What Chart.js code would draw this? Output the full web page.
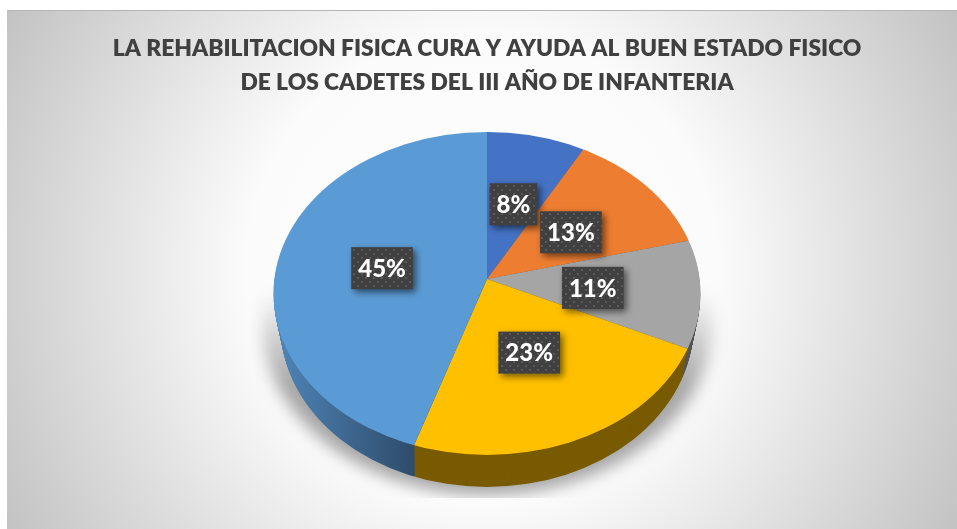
<!DOCTYPE html>
<html>
<head>
<meta charset="utf-8">
<style>
  html, body { margin: 0; padding: 0; background: #fff; }
  canvas { display: block; }
</style>
</head>
<body>
<canvas id="pieChart" width="957" height="529"></canvas>
<script src="https://cdn.jsdelivr.net/npm/chart.js@4"></script>
<script>
const titleLines = [
  'LA REHABILITACION FISICA CURA Y AYUDA AL BUEN ESTADO FISICO',
  'DE LOS CADETES DEL III AÑO DE INFANTERIA'
];
const categories = ['1', '2', '3', '4', '5'];
const percents = [8, 13, 11, 23, 45];
const sliceColors = ['#4472C4', '#ED7D31', '#A5A5A5', '#FFC000', '#5B9BD5'];
const wallColors = ['#2a4578', '#8f4b1d', '#555555', '#795b00', '#375f84'];

// fake 3D: the pie is squashed around its apex and cut by a slightly lower ellipse
const tilt = 0.74;
const rimDrop = 14.5;
const rimX = 213.5;
const rimY = 161.5;
const depth = 32;

function rimPath(ctx, arc, shift, grow) {
  ctx.beginPath();
  ctx.ellipse(arc.x, arc.y + rimDrop + shift, rimX + grow, rimY + grow, 0, 0, Math.PI * 2);
}

function dotPattern(ctx) {
  const tile = document.createElement('canvas');
  tile.width = tile.height = 8;
  const t = tile.getContext('2d');
  t.fillStyle = '#404040';
  t.fillRect(0, 0, 8, 8);
  t.fillStyle = '#595959';
  t.fillRect(1, 1, 2, 2);
  t.fillRect(5, 5, 2, 2);
  return ctx.createPattern(tile, 'repeat');
}

const pie3d = {
  id: 'pie3d',
  beforeDraw(chart) {
    const ctx = chart.ctx;
    ctx.save();
    const g = ctx.createRadialGradient(482, 270, 0, 482, 270, 560);
    g.addColorStop(0, '#ffffff');
    g.addColorStop(0.42, '#fbfbfb');
    g.addColorStop(1, '#bfbfbf');
    ctx.fillStyle = g;
    ctx.fillRect(7, 10, 950, 519);
    ctx.fillStyle = '#b5b5b5';
    ctx.fillRect(7, 10, 950, 1);
    ctx.restore();
  },
  beforeDatasetDraw(chart, args) {
    const ctx = chart.ctx;
    const arcs = args.meta.data;
    const a0 = arcs[0];

    // soft shadow under the lower half
    ctx.save();
    ctx.beginPath();
    ctx.rect(250, 285, 480, 213);
    ctx.clip();
    ctx.filter = 'blur(8px)';
    const sh = ctx.createLinearGradient(0, 290, 0, 385);
    sh.addColorStop(0, 'rgba(0,0,0,0)');
    sh.addColorStop(1, 'rgba(0,0,0,0.34)');
    ctx.fillStyle = sh;
    rimPath(ctx, a0, depth - 4, 12);
    ctx.fill();
    ctx.restore();

    // side wall, stacked from the bottom up, narrowing a little with depth
    const blueWall = ctx.createLinearGradient(a0.x - rimX, 0, a0.x - 68, 0);
    blueWall.addColorStop(0, '#4f86b8');
    blueWall.addColorStop(1, '#2d4a69');
    for (let s = depth; s > 0; s--) {
      ctx.save();
      ctx.beginPath();
      ctx.ellipse(a0.x, a0.y + rimDrop + s, rimX - s * 0.22, rimY, 0, 0, Math.PI * 2);
      ctx.clip();
      arcs.forEach((arc, i) => {
        ctx.setTransform(1, 0, 0, tilt, a0.x, a0.y + s);
        ctx.beginPath();
        ctx.moveTo(0, 0);
        ctx.arc(0, 0, arc.outerRadius, arc.startAngle, arc.endAngle);
        ctx.closePath();
        ctx.setTransform(1, 0, 0, 1, 0, 0);
        ctx.fillStyle = i === arcs.length - 1 ? blueWall : wallColors[i];
        ctx.fill();
      });
      ctx.restore();
    }

    // top face: Chart.js draws the arcs inside this transform
    ctx.save();
    rimPath(ctx, a0, 0, 0);
    ctx.clip();
    ctx.translate(a0.x, a0.y);
    ctx.scale(1, tilt);
    ctx.translate(-a0.x, -a0.y);
  },
  afterDatasetDraw(chart) {
    chart.ctx.restore();
  },
  afterDatasetsDraw(chart) {
    const ctx = chart.ctx;
    const arcs = chart.getDatasetMeta(0).data;
    const fill = dotPattern(ctx);
    ctx.save();
    ctx.font = '900 24px Lato';
    ctx.textAlign = 'center';
    ctx.textBaseline = 'middle';
    arcs.forEach((arc, i) => {
      const mid = (arc.startAngle + arc.endAngle) / 2;
      const r = arc.outerRadius * 0.425;
      const cx = arc.x + Math.cos(mid) * r;
      const cy = arc.y + Math.sin(mid) * r * tilt + 1.5;
      const label = percents[i] + '%';
      const w = ctx.measureText(label).width + 14;
      const h = 42;
      ctx.save();
      ctx.shadowColor = 'rgba(0,0,0,0.55)';
      ctx.shadowBlur = 7;
      ctx.shadowOffsetX = 3;
      ctx.shadowOffsetY = 3;
      ctx.fillStyle = fill;
      ctx.fillRect(cx - w / 2, cy - h / 2, w, h);
      ctx.restore();
      ctx.fillStyle = '#ffffff';
      ctx.fillText(label, cx, cy + 1);
    });
    ctx.restore();
  }
};

new Chart(document.getElementById('pieChart').getContext('2d'), {
  type: 'pie',
  plugins: [pie3d],
  data: {
    labels: categories,
    datasets: [
      {
        data: percents,
        backgroundColor: sliceColors,
        borderWidth: 0,
        radius: 250,
        clip: false,
      },
    ],
  },
  options: {
    responsive: false,
    animation: false,
    layout: { padding: { left: 17, bottom: 81 } },
    plugins: {
      legend: { display: false },
      tooltip: { enabled: false },
      title: {
        display: true,
        text: titleLines,
        color: '#404040',
        font: { family: 'Lato', size: 22.8, weight: '800', lineHeight: 1.49 },
        padding: { top: 32, bottom: 10 },
      },
    },
  },
});
</script>
</body>
</html>
